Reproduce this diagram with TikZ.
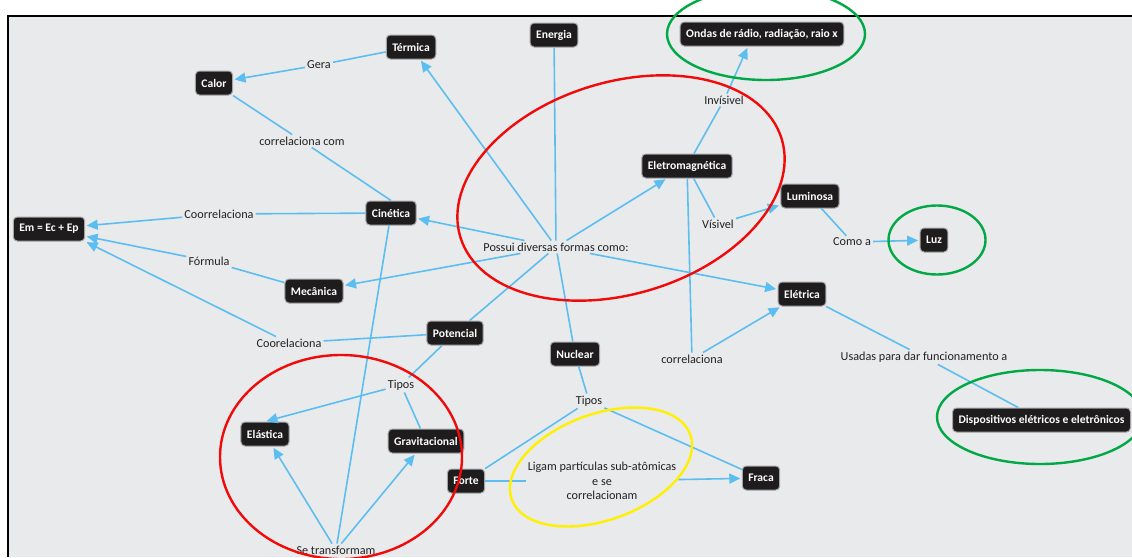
\documentclass[tikz,border=0pt]{standalone}
\usepackage{fontspec}
\setmainfont{Carlito}
\usetikzlibrary{arrows.meta}

\definecolor{panel}{RGB}{233,234,236}
\definecolor{boxfill}{RGB}{30,28,29}
\definecolor{boxglow}{RGB}{165,165,168}
\definecolor{edge}{RGB}{92,190,240}
\definecolor{labeltext}{RGB}{34,34,34}
\definecolor{ringred}{RGB}{240,10,10}
\definecolor{ringgreen}{RGB}{0,168,70}
\definecolor{ringyellow}{RGB}{255,240,0}

\begin{document}
\begin{tikzpicture}[x=1pt,y=-1pt,
  concept/.style={fill=boxfill, draw=boxglow, line width=1pt, rounded corners=4pt,
    text=white, font=\bfseries\fontsize{11.6}{13}\selectfont,
    inner xsep=6pt, inner ysep=0pt, minimum height=24pt},
  link/.style={text=labeltext, font=\fontsize{12.2}{14.5}\selectfont, inner sep=2pt},
  conn/.style={draw=edge, line width=1.6pt},
  arr/.style={conn, -{Triangle[length=11pt,width=10pt]}, shorten >=1.5pt},
  ring/.style={line width=2.4pt}
]
\useasboundingbox (0,0) rectangle (1132,557);
\fill[white] (0,0) rectangle (1132,557);
\fill[panel] (8,16) rectangle (1132,557);
\draw[black, line width=1.5pt] (8,557) -- (8,16) -- (1132,16);

\begin{scope}
\clip (0,0) rectangle (1132,557);

% concepts
\node[concept] (termica) at (411,47) {Térmica};
\node[concept] (energia) at (554,35) {Energia};
\node[concept] (ondas) at (762,34) {Ondas de rádio, radiação, raio x};
\node[concept] (calor) at (214,83) {Calor};
\node[concept] (em) at (49,229) {Em = Ec + Ep};
\node[concept] (cinetica) at (391,213) {Cinética};
\node[concept] (mecanica) at (314,291) {Mecânica};
\node[concept] (potencial) at (455,333) {Potencial};
\node[concept] (eletromag) at (687,166) {Eletromagnética};
\node[concept] (luminosa) at (810,196) {Luminosa};
\node[concept] (luz) at (934,240) {Luz};
\node[concept] (eletrica) at (802,294) {Elétrica};
\node[concept] (nuclear) at (575,354) {Nuclear};
\node[concept] (elastica) at (265,434) {Elástica};
\node[concept] (gravit) at (426,441) {Gravitacional};
\node[concept] (forte) at (466,481) {Forte};
\node[concept] (fraca) at (761,478) {Fraca};
\node[concept, anchor=west] (dispositivos) at (952,420) {Dispositivos elétricos e eletrônicos};

% linking phrases
\node[link] (gera) at (319,65) {Gera};
\node[link] (corrcom) at (302,141) {correlaciona com};
\node[link] (coorr) at (219,214) {Coorrelaciona};
\node[link] (formula) at (209,261) {Fórmula};
\node[link] (coorel) at (289,343) {Coorelaciona};
\node[link] (possui) at (556,247) {Possui diversas formas como:};
\node[link] (invis) at (724,100) {Invísivel};
\node[link] (visivel) at (718,224) {Vísivel};
\node[link] (comoa) at (852,242) {Como a};
\node[link] (correl) at (692,359) {correlaciona};
\node[link] (usadas) at (924,357) {Usadas para dar funcionamento a};
\node[link] (tiposp) at (401,385) {Tipos};
\node[link] (tiposn) at (589,401) {Tipos};
\node[link, align=center] (ligam) at (602,481) {Ligam partículas sub-atômicas\\e se\\correlacionam};
\node[link] (setrans) at (336,550) {Se transformam};

% connections
\draw[conn] (termica) -- (gera);
\draw[arr] (gera) -- (calor);
\draw[conn] (calor) -- (corrcom);
\draw[conn] (corrcom) -- (cinetica.north);
\draw[conn] (cinetica) -- (coorr);
\draw[arr] (coorr) -- (em);
\draw[conn] (mecanica) -- (formula);
\draw[arr] (formula) -- (em);
\draw[conn] (potencial) -- (coorel);
\draw[arr] (coorel) -- (em.south east);

\draw[conn] (energia) -- (possui);
\draw[arr] (possui) -- (termica);
\draw[arr] (possui) -- (cinetica);
\draw[arr] (possui) -- (mecanica);
\draw[arr] (possui) -- (eletromag);
\draw[arr] (possui) -- (eletrica);
\draw[conn] (possui) -- (potencial);
\draw[conn] (possui) -- (nuclear);

\draw[conn] (eletromag) -- (invis);
\draw[arr] (invis) -- ([xshift=-14pt]ondas.south);
\draw[conn] (eletromag) -- (visivel);
\draw[arr] (visivel) -- (luminosa);
\draw[conn] (luminosa) -- (comoa);
\draw[arr] (comoa) -- (luz);
\draw[conn] (eletromag) -- (correl);
\draw[arr] (correl) -- (eletrica);
\draw[conn] (eletrica) -- (usadas);
\draw[conn] (usadas) -- (dispositivos);

\draw[conn] (potencial) -- (tiposp);
\draw[arr] (tiposp) -- (elastica.north);
\draw[conn] (tiposp) -- (gravit);
\draw[conn] (setrans) -- (cinetica);
\draw[arr] (setrans) -- (elastica);
\draw[arr] (setrans) -- (gravit);

\draw[conn] (nuclear) -- (tiposn);
\draw[conn] (tiposn) -- (forte);
\draw[conn] (tiposn) -- (fraca);
\draw[conn] (forte) -- (ligam);
\draw[arr] (ligam) -- (fraca);

% highlight rings
\draw[ring, ringred, rotate around={17:(621,188)}] (621,188) ellipse [x radius=168pt, y radius=106pt];
\draw[ring, ringred] (341,457) ellipse [x radius=121pt, y radius=102pt];
\draw[ring, ringyellow, rotate around={20:(601,467)}] (601,467) ellipse [x radius=95pt, y radius=53pt];
\draw[ring, ringgreen] (766,34) ellipse [x radius=99pt, y radius=46pt];
\draw[ring, ringgreen] (937,240) ellipse [x radius=48.5pt, y radius=34.5pt];
\draw[ring, ringgreen] (1040,417) ellipse [x radius=103pt, y radius=47pt];
\end{scope}
\end{tikzpicture}
\end{document}
